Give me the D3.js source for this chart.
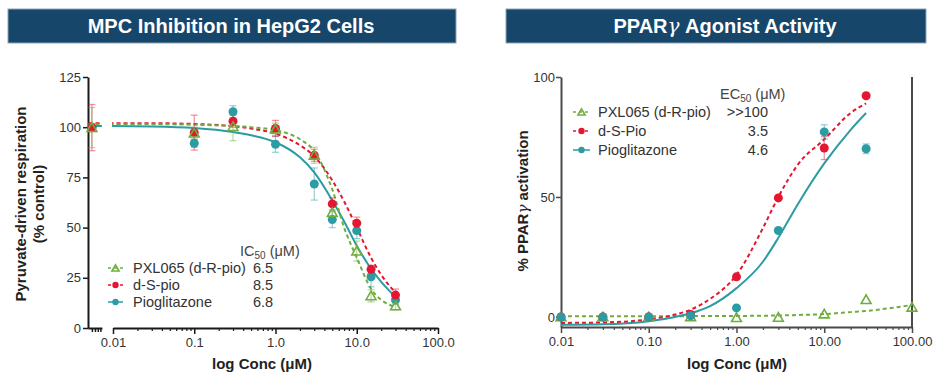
<!DOCTYPE html>
<html>
<head>
<meta charset="utf-8">
<script src="https://cdn.jsdelivr.net/npm/d3@7"></script>
<style>
  body { margin: 0; background: #fff; }
  svg { display: block; font-family: Arial, "Liberation Sans", sans-serif; }
</style>
</head>
<body>
<svg id="chart" width="942" height="377"></svg>
<script>
// ---- left panel: MPC inhibition ----
const concL = [0.0055, 0.1, 0.3, 1, 3, 5, 10, 15, 30];
const pxlL = [99.8, 97, 100.3, 99, 86, 57.5, 38.3, 16, 11];
const pxlErrL = [10, 3, 7, 3, 4, 3, 5, 3, 2];
const dspL = [99.8, 97.3, 103, 99.4, 86, 61.8, 52.2, 29.2, 16.4];
const dspErrL = [11.5, 8.7, 3, 4, 3, 3, 3, 2, 3];
const pioL = [99.8, 92, 107.7, 91.5, 71.7, 54, 48.5, 25.5, 14];
const pioErrL = [2, 2, 3, 4, 8, 4, 4, 5, 2];

// fitted curves
const fitConcL = [0.005, 0.01, 0.03, 0.1, 0.3, 0.5, 1, 2, 3, 5, 7, 10, 15, 20, 30];
const pxlFitL = [101.5, 101.5, 101.5, 101.2, 100.6, 100, 98.5, 94, 88, 69, 50, 35, 19.5, 14, 10.5];
const dspFitL = [102, 102, 102, 101.6, 100.5, 99.3, 96.8, 91, 85.5, 73.5, 63, 50, 35, 26.5, 17.5];
const pioFitL = [100.6, 100.6, 100.4, 99.6, 97.6, 96, 92.5, 85, 77.5, 63.5, 53, 41, 29.5, 23, 15.5];

const yTicksL = [0, 25, 50, 75, 100, 125];
const xTicksL = [0.01, 0.1, 1, 10, 100];
const xLabelsL = ["0.01", "0.1", "1.0", "10.0", "100.0"];
const ctrlTicks = [0.0055, 0.006, 0.0065, 0.007];

const namesL = ["PXL065 (d-R-pio)", "d-S-pio", "Pioglitazone"];
const ic50 = ["6.5", "8.5", "6.8"];

// ---- right panel: PPARγ agonist ----
const concR = [0.01, 0.03, 0.1, 0.3, 1, 3, 10, 30, 100];
const pxlR = [0, 0, 0, 0, -0.3, -0.2, 1.2, 7.2, 4];
const dspR = [0, 0, 0, 1, 16.7, 49.6, 70.4, 92.2, null];
const dspErrR = [0, 0, 0, 0, 0, 0, 4.8, 0, 0];
const pioR = [0, 0, 0, 0.5, 3.75, 36, 77.1, 70.1, null];
const pioErrR = [0, 0, 0, 0, 0, 0, 3, 2, 0];

const fitConcR = [0.01, 0.03, 0.1, 0.2, 0.3, 0.5, 1, 2, 3, 5, 10, 20, 30, 60, 100];
const pxlFitR = [0.3, 0.3, 0.3, 0.3, 0.35, 0.35, 0.4, 0.5, 0.6, 0.8, 1.2, 2, 2.5, 3.8, 5];
const dspFitR = [-2.5, -2.3, -1, 1, 3, 7.5, 17.5, 37, 50, 63.5, 74, 85, 89, null, null];
const pioFitR = [-3.3, -3.1, -1.8, 0, 1.5, 4.5, 12, 23, 33, 47, 64, 78, 85, null, null];

const yTicksR = [0, 50, 100];
const xTicksR = [0.01, 0.1, 1, 10, 100];
const xLabelsR = ["0.01", "0.10", "1.00", "10.00", "100.00"];

const namesR = ["PXL065 (d-R-pio)", "d-S-Pio", "Pioglitazone"];
const ec50 = [">>100", "3.5", "4.6"];

const NAVY = "#17466b", GREEN = "#6fae3e", RED = "#e5162f", TEAL = "#2b9ca3", TXT = "#333";

const svg = d3.select("#chart");

// title bars
function titleBar(x0, x1, tx) {
  svg.append("rect").attr("x", x0).attr("y", 9).attr("width", x1 - x0).attr("height", 34)
    .attr("fill", NAVY).attr("stroke", "#8ea3b5").attr("stroke-width", 1);
  return svg.append("text").attr("x", tx).attr("y", 33).attr("text-anchor", "middle")
    .attr("fill", "#fff").attr("font-weight", "bold").attr("font-size", 20);
}
titleBar(8, 456, 231).text("MPC Inhibition in HepG2 Cells");
const t2 = titleBar(506, 926, 725);
t2.append("tspan").text("PPAR");
t2.append("tspan").attr("font-family", "'DejaVu Serif', serif").attr("font-style", "italic")
  .attr("font-weight", "normal").text("γ");
t2.append("tspan").text("  Agonist Activity");

function styleAxis(g, color, labelSize) {
  g.select(".domain").attr("stroke", color).attr("stroke-width", 2);
  g.selectAll(".tick line").attr("stroke", color).attr("stroke-width", 1.5);
  g.selectAll(".tick text").attr("fill", TXT).attr("font-size", labelSize).attr("font-family", "Arial, 'Liberation Sans', sans-serif");
}

function toPts(conc, vals, errs) {
  return conc.map((c, i) => ({ c: c, v: vals[i], e: errs ? errs[i] : 0 })).filter(d => d.v != null);
}

function drawFit(g, x, y, conc, vals, color, dashed) {
  const line = d3.line().defined(d => d.v != null)
    .x(d => x(d.c)).y(d => y(d.v)).curve(d3.curveMonotoneX);
  g.append("path").datum(conc.map((c, i) => ({ c: c, v: vals[i] })))
    .attr("d", line).attr("fill", "none").attr("stroke", color).attr("stroke-width", 2)
    .attr("stroke-dasharray", dashed ? "4,3" : null);
}

function drawErrors(g, x, y, pts, color) {
  const eb = g.append("g").attr("stroke", color).attr("stroke-opacity", 0.45).attr("stroke-width", 1.3);
  pts.filter(d => d.e > 0).forEach(d => {
    const cx = x(d.c);
    eb.append("line").attr("x1", cx).attr("x2", cx).attr("y1", y(d.v - d.e)).attr("y2", y(d.v + d.e));
    [d.v - d.e, d.v + d.e].forEach(v => {
      eb.append("line").attr("x1", cx - 3.5).attr("x2", cx + 3.5).attr("y1", y(v)).attr("y2", y(v));
    });
  });
}

function marker(g, cx, cy, kind, color, size) {
  if (kind === "tri") {
    g.append("path").attr("d", d3.symbol(d3.symbolTriangle, size || 42)())
      .attr("transform", `translate(${cx},${cy + 1})`)
      .attr("fill", "none").attr("stroke", color).attr("stroke-width", 1.6);
  } else {
    g.append("circle").attr("cx", cx).attr("cy", cy).attr("r", size ? 3.2 : 4.5).attr("fill", color);
  }
}

function drawMarkers(g, x, y, pts, kind, color) {
  pts.forEach(d => marker(g, x(d.c), y(d.v), kind, color));
}

function legend(rows, x0, x1, tx, names, hx, header, vx, vals, anchor, hy) {
  const kinds = ["tri", "dot", "dot"];
  const colors = [GREEN, RED, TEAL];
  const lg = svg.append("g");
  names.forEach((n, i) => {
    const yy = rows[i];
    lg.append("line").attr("x1", x0).attr("x2", x1).attr("y1", yy).attr("y2", yy)
      .attr("stroke", colors[i]).attr("stroke-width", 1.5)
      .attr("stroke-dasharray", i < 2 ? "3,3" : null);
    marker(lg, (x0 + x1) / 2, yy, kinds[i], colors[i], 22);
    lg.append("text").attr("x", tx).attr("y", yy + 5).attr("font-size", 14.5).attr("fill", TXT).text(n);
    lg.append("text").attr("x", vx).attr("y", yy + 5).attr("font-size", 14.5).attr("fill", TXT)
      .attr("text-anchor", anchor).text(vals[i]);
  });
  const h = lg.append("text").attr("x", hx).attr("y", hy).attr("font-size", 14.5).attr("fill", "#444");
  h.append("tspan").text(header);
  h.append("tspan").attr("font-size", 10).attr("dy", 3).text("50");
  h.append("tspan").attr("dy", -3).text(" (μM)");
}

// ================= left panel =================
const xL = d3.scaleLog().domain([0.01, 100]).range([113, 438]);
const yL = d3.scaleLinear().domain([0, 125]).range([328, 77]);

const gyL = svg.append("g").attr("transform", "translate(88,0)")
  .call(d3.axisLeft(yL).tickValues(yTicksL).tickSize(5).tickSizeOuter(0).tickPadding(2));
styleAxis(gyL, "#1a1a1a", 13);

// main x segment
const gxL = svg.append("g").attr("transform", "translate(0,328)")
  .call(d3.axisBottom(xL).tickValues(xTicksL).tickFormat((d, i) => xLabelsL[i]).tickSize(6).tickSizeOuter(0).tickPadding(4));
styleAxis(gxL, "#1a1a1a", 13);
const minorL = xL.ticks().filter(t => xTicksL.indexOf(t) < 0);
const gmL = svg.append("g").attr("transform", "translate(0,328)")
  .call(d3.axisBottom(xL).tickValues(minorL).tickFormat("").tickSize(3).tickSizeOuter(0));
gmL.select(".domain").remove();
gmL.selectAll(".tick line").attr("stroke", "#1a1a1a").attr("stroke-width", 1.2);

// control segment before the axis break
const xCtrl = xL.copy().domain([0.0049, 0.0073]).range([xL(0.0049), xL(0.0073)]);
const gcL = svg.append("g").attr("transform", "translate(0,328)")
  .call(d3.axisBottom(xCtrl).tickValues(ctrlTicks).tickFormat("").tickSize(4).tickSizeOuter(0));
styleAxis(gcL, "#1a1a1a", 13);

// clip out the axis break for the fit lines
const defs = svg.append("defs");
const cp = defs.append("clipPath").attr("id", "gapL");
cp.append("rect").attr("x", 86).attr("y", 60).attr("width", xL(0.0073) - 86).attr("height", 280);
cp.append("rect").attr("x", 112).attr("y", 60).attr("width", 340).attr("height", 280);

const plotL = svg.append("g");
const fitsL = plotL.append("g").attr("clip-path", "url(#gapL)");
drawFit(fitsL, xL, yL, fitConcL, pioFitL, TEAL, false);
drawFit(fitsL, xL, yL, fitConcL, dspFitL, RED, true);
drawFit(fitsL, xL, yL, fitConcL, pxlFitL, GREEN, true);

const pPio = toPts(concL, pioL, pioErrL), pDsp = toPts(concL, dspL, dspErrL), pPxl = toPts(concL, pxlL, pxlErrL);
drawErrors(plotL, xL, yL, pPio, TEAL);
drawErrors(plotL, xL, yL, pDsp, RED);
drawErrors(plotL, xL, yL, pPxl, GREEN);
drawMarkers(plotL, xL, yL, pPio, "dot", TEAL);
drawMarkers(plotL, xL, yL, pDsp, "dot", RED);
drawMarkers(plotL, xL, yL, pPxl, "tri", GREEN);

legend([268, 285, 302], 108, 123, 133, namesL, 240, "IC", 253, ic50, "start", 256);

svg.append("text").attr("x", 262).attr("y", 369).attr("text-anchor", "middle")
  .attr("font-weight", "bold").attr("font-size", 15).attr("fill", "#222").text("log Conc (μM)");
const ytL = svg.append("text").attr("transform", "translate(26,204) rotate(-90)")
  .attr("text-anchor", "middle").attr("font-weight", "bold").attr("font-size", 15).attr("fill", "#222");
ytL.append("tspan").attr("x", 0).attr("y", 0).text("Pyruvate-driven respiration");
ytL.append("tspan").attr("x", 0).attr("y", 18).text("(% control)");

// ================= right panel =================
const xR = d3.scaleLog().domain([0.01, 100]).range([561, 912]);
const yR = d3.scaleLinear().domain([-4.2, 100]).range([327, 77]);

const gyR = svg.append("g").attr("transform", "translate(561,0)")
  .call(d3.axisLeft(yR).tickValues(yTicksR).tickSize(5).tickSizeOuter(0).tickPadding(1));
styleAxis(gyR, "#4a4a4a", 13);
svg.append("line").attr("x1", 912).attr("x2", 912).attr("y1", 77).attr("y2", 327)
  .attr("stroke", "#4a4a4a").attr("stroke-width", 2);

const gxR = svg.append("g").attr("transform", "translate(0,327)")
  .call(d3.axisBottom(xR).tickValues(xTicksR).tickFormat((d, i) => xLabelsR[i]).tickSize(6).tickSizeOuter(0).tickPadding(4));
styleAxis(gxR, "#4a4a4a", 13);
const minorR = xR.ticks().filter(t => xTicksR.indexOf(t) < 0);
const gmR = svg.append("g").attr("transform", "translate(0,327)")
  .call(d3.axisBottom(xR).tickValues(minorR).tickFormat("").tickSize(3).tickSizeOuter(0));
gmR.select(".domain").remove();
gmR.selectAll(".tick line").attr("stroke", "#4a4a4a").attr("stroke-width", 1.2);

const plotR = svg.append("g");
drawFit(plotR, xR, yR, fitConcR, pxlFitR, GREEN, true);
drawFit(plotR, xR, yR, fitConcR, pioFitR, TEAL, false);
drawFit(plotR, xR, yR, fitConcR, dspFitR, RED, true);

const rPxl = toPts(concR, pxlR, null), rDsp = toPts(concR, dspR, dspErrR), rPio = toPts(concR, pioR, pioErrR);
drawErrors(plotR, xR, yR, rDsp, RED);
drawErrors(plotR, xR, yR, rPio, TEAL);
drawMarkers(plotR, xR, yR, rPxl, "tri", GREEN);
drawMarkers(plotR, xR, yR, rDsp, "dot", RED);
drawMarkers(plotR, xR, yR, rPio, "dot", TEAL);

legend([112, 131, 150], 573, 590, 598, namesR, 720, "EC", 768, ec50, "end", 99);

svg.append("text").attr("x", 737).attr("y", 369).attr("text-anchor", "middle")
  .attr("font-weight", "bold").attr("font-size", 15).attr("fill", "#222").text("log Conc (μM)");
const ytR = svg.append("text").attr("transform", "translate(528,201) rotate(-90)")
  .attr("text-anchor", "middle").attr("font-weight", "bold").attr("font-size", 15).attr("fill", "#222");
ytR.append("tspan").text("% PPAR");
ytR.append("tspan").attr("font-weight", "normal").attr("font-style", "italic")
  .attr("font-family", "'DejaVu Serif', serif").text("γ");
ytR.append("tspan").text(" activation");
</script>
</body>
</html>
